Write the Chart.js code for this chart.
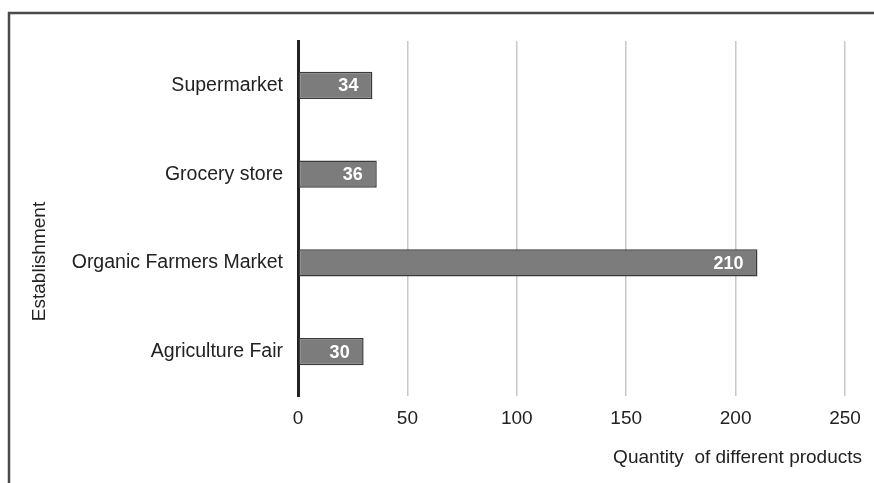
<!DOCTYPE html>
<html>
<head>
<meta charset="utf-8">
<script src="https://cdn.jsdelivr.net/npm/chart.js@4/dist/chart.umd.min.js"></script>
<style>
  html, body { margin: 0; padding: 0; background: #fff; }
  #wrap { width: 874px; height: 483px; position: relative; }
</style>
</head>
<body>
<div id="wrap"><canvas id="c" width="874" height="483"></canvas></div>
<script>
const categories = ['Supermarket', 'Grocery store', 'Organic Farmers Market', 'Agriculture Fair'];
const productCounts = [34, 36, 210, 30];
const xTicks = [0, 50, 100, 150, 200, 250];
const xTitle = 'Quantity  of different products';
const yTitle = 'Establishment';

const FONT = '"Liberation Sans", Arial, sans-serif';

const framePlugin = {
  id: 'frame',
  beforeDraw(chart) {
    const ctx = chart.ctx;
    ctx.save();
    ctx.fillStyle = '#fff';
    ctx.fillRect(0, 0, chart.width, chart.height);
    ctx.strokeStyle = '#4a4a4a';
    ctx.lineWidth = 2.5;
    ctx.beginPath();
    ctx.moveTo(9, chart.height);
    ctx.lineTo(9, 13);
    ctx.lineTo(chart.width, 13);
    ctx.stroke();
    ctx.restore();
  },
  afterDraw(chart) {
    const ctx = chart.ctx;
    const area = chart.chartArea;
    ctx.save();
    ctx.fillStyle = '#222';
    ctx.font = '19px ' + FONT;
    ctx.textBaseline = 'middle';
    ctx.textAlign = 'right';
    ctx.fillText(xTitle, 862, 458);
    ctx.translate(40, (area.top + area.bottom) / 2 + 43);
    ctx.rotate(-Math.PI / 2);
    ctx.textAlign = 'center';
    ctx.fillText(yTitle, 0, 0);
    ctx.restore();
  }
};

const valueLabels = {
  id: 'valueLabels',
  afterDatasetsDraw(chart) {
    const ctx = chart.ctx;
    const meta = chart.getDatasetMeta(0);
    ctx.save();
    ctx.fillStyle = '#fff';
    ctx.font = 'bold 18px ' + FONT;
    ctx.textAlign = 'right';
    ctx.textBaseline = 'middle';
    meta.data.forEach((bar, i) => {
      ctx.fillText(String(chart.data.datasets[0].data[i]), bar.x - 14, bar.y + 1);
    });
    ctx.restore();
  }
};

new Chart(document.getElementById('c'), {
  type: 'bar',
  data: {
    labels: categories,
    datasets: [{
      data: productCounts,
      backgroundColor: '#7c7c7c',
      borderColor: '#3a3a3a',
      borderWidth: 1.5,
      borderSkipped: false,
      categoryPercentage: 1,
      barPercentage: 0.305
    }]
  },
  options: {
    indexAxis: 'y',
    responsive: false,
    devicePixelRatio: 1,
    animation: false,
    layout: { padding: { left: 0, right: 29, top: 41, bottom: 0 } },
    plugins: { legend: { display: false }, tooltip: { enabled: false } },
    scales: {
      x: {
        type: 'linear',
        min: 0,
        max: 250,
        afterBuildTicks(scale) { scale.ticks = xTicks.map(v => ({ value: v })); },
        afterFit(scale) { scale.height = 87; },
        grid: { color: '#c8c8c8', lineWidth: 1.5, drawTicks: false },
        border: { display: false },
        ticks: { color: '#222', font: { family: FONT, size: 19 }, padding: 11 }
      },
      y: {
        afterFit(scale) { scale.width = 298; },
        grid: { display: false, drawTicks: false },
        border: { display: true, color: '#222', width: 3 },
        ticks: { color: '#222', font: { family: FONT, size: 19.5 }, padding: 15 }
      }
    }
  },
  plugins: [framePlugin, valueLabels]
});
</script>
</body>
</html>
